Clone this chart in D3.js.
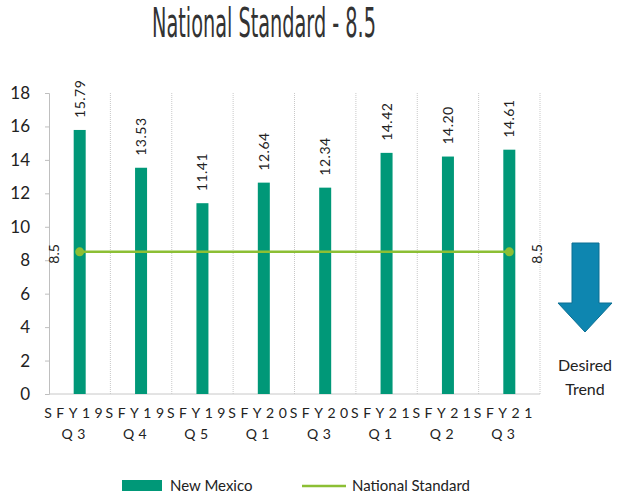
<!DOCTYPE html>
<html>
<head>
    <title>National Standard - 8.5</title>
</head>
<style>
body { margin: 0; background: #fff; }
svg text { font-family: Lato, "Noto Sans", sans-serif; fill: #222; }
</style>
<body>
<script src="https://cdn.jsdelivr.net/npm/d3@7/dist/d3.min.js"></script>
<script>

var periods = ["SFY19", "SFY19", "SFY19", "SFY20", "SFY20", "SFY21", "SFY21", "SFY21"];
var quarters = ["Q3", "Q4", "Q5", "Q1", "Q3", "Q1", "Q2", "Q3"];
var newMexico = [15.79, 13.53, 11.41, 12.64, 12.34, 14.42, 14.20, 14.61];
var nationalStandard = [8.5, 8.5, 8.5, 8.5, 8.5, 8.5, 8.5, 8.5];
var yTicks = [0, 2, 4, 6, 8, 10, 12, 14, 16, 18];

var w = 623;
var h = 497;
// plot area edges ("top" is taken by window.top, so prefix them)
var pLeft = 49, pRight = 540, pTop = 93, pBottom = 394;

var svg = d3.select("body").append("svg")
    .attr("width", w)
    .attr("height", h);

var idx = d3.range(newMexico.length);

var xScale = d3.scaleBand()
    .domain(idx)
    .range([pLeft, pRight]);

var yScale = d3.scaleLinear()
    .domain([0, 18])
    .range([pBottom, pTop]);

var cx = function(i) { return xScale(i) + xScale.bandwidth() / 2; };

// title
svg.append("text")
    .attr("x", 152)
    .attr("y", 37)
    .attr("textLength", 224)
    .attr("lengthAdjust", "spacingAndGlyphs")
    .style("font-family", "'DejaVu Sans Condensed', 'Liberation Sans Narrow', sans-serif")
    .style("font-size", "40px")
    .style("fill", "#333")
    .text("National  Standard  - 8.5");

// vertical gridlines at category boundaries
var bounds = idx.map(function(i) { return xScale(i); }).concat([pRight]);
svg.selectAll("line.grid")
    .data(bounds.slice(1))
    .enter()
    .append("line")
    .attr("class", "grid")
    .attr("x1", function(d) { return d; })
    .attr("x2", function(d) { return d; })
    .attr("y1", pTop)
    .attr("y2", pBottom)
    .attr("stroke", "#c8c8c8")
    .attr("stroke-dasharray", "1,1");

// y axis
var yAxis = d3.axisLeft(yScale).tickValues(yTicks).tickSize(4).tickPadding(15);
var gy = svg.append("g")
    .attr("transform", "translate(" + pLeft + ",0)")
    .call(yAxis);
gy.select(".domain").attr("stroke", "#bfbfbf");
gy.selectAll(".tick line").attr("stroke", "#bfbfbf");
gy.selectAll(".tick text")
    .style("font-family", "Lato, sans-serif")
    .style("font-size", "17px")
    .style("fill", "#222");

// x axis line
svg.append("line")
    .attr("x1", pLeft)
    .attr("x2", pRight)
    .attr("y1", pBottom)
    .attr("y2", pBottom)
    .attr("stroke", "#c8c8c8");

// bars
var barW = 12;
svg.selectAll("rect.bar")
    .data(newMexico)
    .enter()
    .append("rect")
    .attr("class", "bar")
    .attr("x", function(d, i) { return cx(i) - barW / 2; })
    .attr("y", function(d) { return yScale(d); })
    .attr("width", barW)
    .attr("height", function(d) { return pBottom - yScale(d); })
    .attr("fill", "#009878");

// bar value labels
svg.selectAll("text.val")
    .data(newMexico)
    .enter()
    .append("text")
    .attr("class", "val")
    .attr("transform", function(d, i) {
        return "translate(" + (cx(i) + 5) + "," + (yScale(d) - 12) + ") rotate(-90)";
    })
    .style("font-size", "14px")
    .style("letter-spacing", "0.5px")
    .text(function(d) { return d.toFixed(2); });

// national standard line
var line = d3.line()
    .x(function(d, i) { return cx(i); })
    .y(function(d) { return yScale(d); });

svg.append("path")
    .datum(nationalStandard)
    .attr("d", line)
    .attr("fill", "none")
    .attr("stroke", "#8cbf34")
    .attr("stroke-width", 2.5);

var ends = [0, nationalStandard.length - 1];
svg.selectAll("circle.end")
    .data(ends)
    .enter()
    .append("circle")
    .attr("class", "end")
    .attr("cx", function(i) { return cx(i); })
    .attr("cy", function(i) { return yScale(nationalStandard[i]); })
    .attr("r", 4.5)
    .attr("fill", "#8cbf34");

svg.selectAll("text.std")
    .data(ends)
    .enter()
    .append("text")
    .attr("class", "std")
    .attr("text-anchor", "middle")
    .attr("transform", function(i) {
        var x = i === 0 ? cx(i) - 21 : cx(i) + 33;
        return "translate(" + x + "," + (yScale(nationalStandard[i]) + 2) + ") rotate(-90)";
    })
    .style("font-size", "14px")
    .text(function(i) { return nationalStandard[i]; });

// x labels
var xl = svg.selectAll("g.xl")
    .data(idx)
    .enter()
    .append("g")
    .attr("class", "xl")
    .attr("transform", function(i) { return "translate(" + cx(i) + ",0)"; });
xl.append("text")
    .attr("text-anchor", "middle")
    .attr("y", 418)
    .attr("x", -4)
    .style("font-size", "14px")
    .style("letter-spacing", "4.5px")
    .text(function(i) { return periods[i]; });
xl.append("text")
    .attr("text-anchor", "middle")
    .attr("y", 439)
    .attr("x", -4)
    .style("font-size", "14px")
    .style("letter-spacing", "4.5px")
    .text(function(i) { return quarters[i]; });

// desired trend arrow
svg.append("path")
    .attr("d", "M572,243 L599,243 L599,303 L612,303 L585,332 L558,303 L572,303 Z")
    .attr("fill", "#0e86b0")
    .attr("stroke", "#0a6f93")
    .attr("stroke-width", 1);

svg.append("text")
    .attr("x", 585)
    .attr("y", 371)
    .attr("text-anchor", "middle")
    .style("font-size", "16px")
    .text("Desired");
svg.append("text")
    .attr("x", 585)
    .attr("y", 395)
    .attr("text-anchor", "middle")
    .style("font-size", "16px")
    .text("Trend");

// legend
svg.append("rect")
    .attr("x", 122)
    .attr("y", 480)
    .attr("width", 40)
    .attr("height", 11)
    .attr("fill", "#009878");
svg.append("text")
    .attr("x", 170)
    .attr("y", 491)
    .style("font-size", "15px")
    .text("New Mexico");
svg.append("line")
    .attr("x1", 302)
    .attr("x2", 346)
    .attr("y1", 486)
    .attr("y2", 486)
    .attr("stroke", "#8cbf34")
    .attr("stroke-width", 2.5);
svg.append("text")
    .attr("x", 352)
    .attr("y", 491)
    .style("font-size", "15px")
    .text("National Standard");

</script>
</body>
</html>
